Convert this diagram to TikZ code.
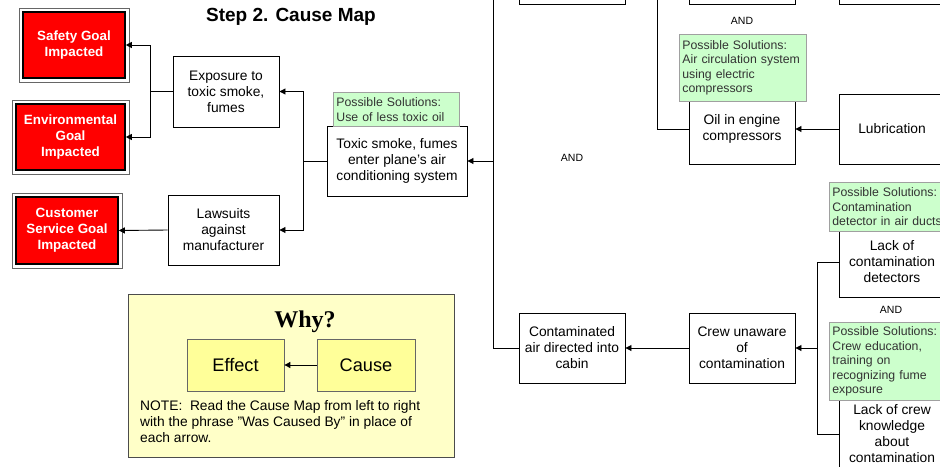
\documentclass[tikz,border=0pt]{standalone}
\usepackage{fontspec}
\setmainfont{Liberation Sans}
\newfontfamily\whyfont{Liberation Serif}
\usepackage{tikz}
\usetikzlibrary{arrows.meta}
\definecolor{solgreen}{HTML}{CCFFCC}
\definecolor{solborder}{HTML}{A0A0A0}
\definecolor{whyfill}{HTML}{FFFFC8}
\definecolor{efill}{HTML}{FFFF99}
\begin{document}
\begin{tikzpicture}[x=1pt,y=-1pt,
  box/.style={draw=black, line width=0.9pt, fill=white, align=center, inner sep=0pt,
    font=\fontsize{13.8}{16}\selectfont},
  goal/.style={draw=black, line width=1.6pt, fill=red, text=white, align=center, inner sep=0pt,
    font=\bfseries\fontsize{13.4}{16}\selectfont},
  goalframe/.style={draw=black!60, line width=0.6pt},
  sol/.style={draw=solborder, line width=0.8pt, fill=solgreen, align=left, anchor=north west,
    text=black!80, inner xsep=3pt, inner ysep=2pt, font=\fontsize{12.3}{14.5}\selectfont},
  andlbl/.style={font=\fontsize{10.5}{12}\selectfont},
  conn/.style={line width=0.9pt},
  arr/.style={line width=0.9pt, -{Triangle[length=6pt,width=6pt]}},
  ybox/.style={draw=black!60, line width=0.8pt, fill=efill, inner sep=0pt,
    font=\fontsize{18.2}{20}\selectfont}
]
\useasboundingbox (0,0) rectangle (940,466);
\clip (0,0) rectangle (940,466);
\fill[white] (0,0) rectangle (940,466);

% title
\node[font=\bfseries\fontsize{19}{22}\selectfont] (title) at (291,17) {Step 2. Cause Map};

% goal boxes
\node[goal, minimum width=102pt, minimum height=66pt] (safety) at (74,45) {Safety Goal\\Impacted};
\draw[goalframe] ([shift={(-3,-3)}]safety.north west) rectangle ([shift={(3,3)}]safety.south east);
\node[goal, minimum width=109pt, minimum height=66pt] (env) at (70.5,137) {Environmental\\Goal\\Impacted};
\draw[goalframe] ([shift={(-3,-3)}]env.north west) rectangle ([shift={(3,3)}]env.south east);
\node[goal, minimum width=102pt, minimum height=67pt] (cust) at (67,230.5) {Customer\\Service Goal\\Impacted};
\draw[goalframe] ([shift={(-3,-3)}]cust.north west) rectangle ([shift={(3,3)}]cust.south east);

% left column boxes
\node[box, minimum width=106pt, minimum height=71pt] (expo) at (226,91.5) {Exposure to\\toxic smoke,\\fumes};
\node[box, minimum width=111pt, minimum height=70pt] (law) at (223.5,230) {Lawsuits\\against\\manufacturer};
\node[box, minimum width=140pt, minimum height=70pt] (toxic) at (397,161) {Toxic smoke, fumes\\enter plane's air\\conditioning system};
\node[sol, text width=120pt, minimum height=34pt] (sol1) at (333,92) {Possible Solutions:\\Use of less toxic oil};

% top partial boxes
\node[box, minimum width=106pt, minimum height=70pt] (top1) at (572,-31) {};
\node[box, minimum width=106pt, minimum height=70pt] (top2) at (742,-31) {};
\node[box, minimum width=106pt, minimum height=70pt] (top3) at (892,-31) {};
\node[andlbl] (and1) at (742,21) {AND};
\node[andlbl] (and2) at (572,158) {AND};

% oil / lubrication
\node[box, minimum width=106pt, minimum height=70pt] (oil) at (742,129) {Oil in engine\\compressors};
\node[box, minimum width=106pt, minimum height=70pt] (lub) at (892,129) {Lubrication};
\node[sol, text width=121pt, minimum height=67pt] (sol2) at (679,34) {Possible Solutions:\\Air circulation system\\using electric\\compressors};

% bottom chain
\node[box, minimum width=106pt, minimum height=70pt] (contam) at (572,348) {Contaminated\\air directed into\\cabin};
\node[box, minimum width=106pt, minimum height=70pt] (crew) at (742,348) {Crew unaware\\of\\contamination};
\node[box, minimum width=106pt, minimum height=70pt] (det) at (892,262) {Lack of\\contamination\\detectors};
\node[sol, text width=125pt, minimum height=49pt] (sol3) at (829,182) {Possible Solutions:\\Contamination\\detector in air ducts};
\node[andlbl] (and3) at (891,310) {AND};
\node[box, minimum width=106pt, minimum height=70pt] (know) at (892,434) {Lack of crew\\knowledge\\about\\contamination};
\node[sol, text width=125pt, minimum height=78pt] (sol4) at (829,322) {Possible Solutions:\\Crew education,\\training on\\recognizing fume\\exposure};

% coordinates for free ends
\coordinate (topA) at (493,-5);
\coordinate (topB) at (657,-5);

% connectors left
\coordinate (j1) at (150,91.5);
\draw[conn] (expo.west) -- (j1);
\draw[arr] (j1) |- (safety.east);
\draw[arr] (j1) |- (env.east);
\draw[arr] (law.west) -- (cust.east);
\coordinate (j2) at (303,161);
\draw[conn] (toxic.west) -- (j2);
\draw[arr] (j2) |- (expo.east);
\draw[arr] (j2) |- (law.east);

% connectors right
\draw[conn] (topA) |- (contam.west);
\draw[arr] (493,161) -- (toxic.east);
\draw[conn] (topB) |- (oil.west);
\draw[arr] (lub.west) -- (oil.east);
\draw[arr] (crew.west) -- (contam.east);
\coordinate (j3) at (817,348);
\draw[arr] (j3) -- (crew.east);
\draw[conn] (j3) |- (det.west);
\draw[conn] (j3) |- (know.west);

% why box
\node[draw=black!70, line width=0.8pt, fill=whyfill, minimum width=326pt, minimum height=163pt, inner sep=0pt] (why) at (291,375.5) {};
\node[font=\whyfont\bfseries\fontsize{24}{28}\selectfont] (whyt) at (305,322) {Why?};
\node[ybox, minimum width=97pt, minimum height=52pt] (eff) at (235.5,365) {Effect};
\node[ybox, minimum width=98pt, minimum height=52pt] (cau) at (366,365) {Cause};
\draw[arr] (cau.west) -- (eff.east);
\node[anchor=north west, align=left, inner sep=0pt, font=\fontsize{13.8}{16}\selectfont] (note) at (140,400)
  {NOTE:\ \ Read the Cause Map from left to right\\with the phrase "Was Caused By" in place of\\each arrow.};
\end{tikzpicture}
\end{document}
